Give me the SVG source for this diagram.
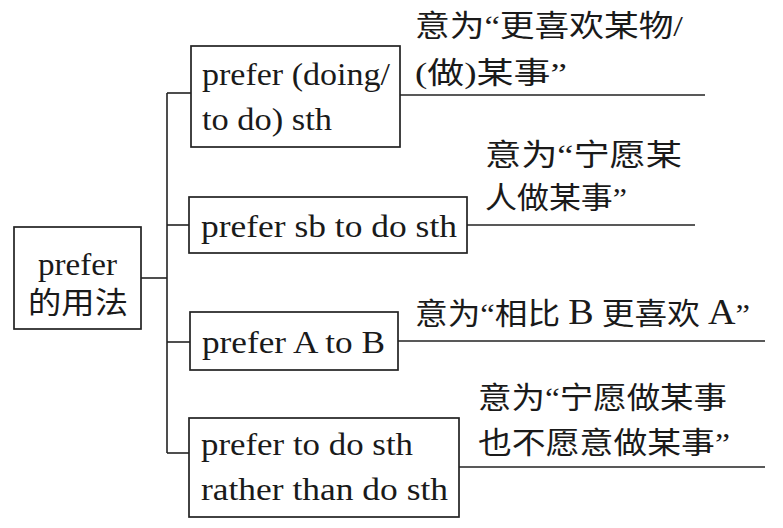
<svg xmlns="http://www.w3.org/2000/svg" width="783" height="528" viewBox="0 0 783 528">
<style>
.box{fill:#fff;stroke:#222;stroke-width:1.7}
.ln{fill:none;stroke:#222;stroke-width:1.6}
.en{font-family:"Liberation Serif","Noto Sans CJK SC",serif;font-size:31px;fill:#1a1a1a}
.cn{font-family:"Liberation Serif","Noto Sans CJK SC",serif;font-size:30px;fill:#1a1a1a}
.big{font-size:35px}
</style>
<rect width="783" height="528" fill="#fff"/>
<g id="connectors">
<path class="ln" d="M167,93 V453"/>
<path class="ln" d="M141,278 H167"/>
<path class="ln" d="M167,93 H191"/>
<path class="ln" d="M167,225 H189"/>
<path class="ln" d="M167,342 H190"/>
<path class="ln" d="M167,453 H189"/>
<path class="ln" d="M400,95 H705"/>
<path class="ln" d="M467,225 H695"/>
<path class="ln" d="M398,341 H765"/>
<path class="ln" d="M459,467 H765"/>
</g>
<g id="root">
<rect class="box" x="14" y="227" width="127" height="102"/>
<text class="en" x="38" y="275" textLength="79" lengthAdjust="spacingAndGlyphs">prefer</text>
<text class="cn" x="28" y="313" font-size="32" textLength="100" lengthAdjust="spacingAndGlyphs">的用法</text>
</g>
<g id="node1">
<rect class="box" x="191" y="46" width="209" height="101"/>
<text class="en" x="202" y="85" textLength="188" lengthAdjust="spacingAndGlyphs">prefer (doing/</text>
<text class="en" x="202" y="130" textLength="130" lengthAdjust="spacingAndGlyphs">to do) sth</text>
</g>
<g id="note1">
<text class="cn" x="415" y="36" textLength="268" lengthAdjust="spacingAndGlyphs">意为“更喜欢某物/</text>
<text class="cn" x="415" y="83" textLength="152" lengthAdjust="spacingAndGlyphs">(做)某事”</text>
</g>
<g id="node2">
<rect class="box" x="189" y="197" width="278" height="56"/>
<text class="en" x="201" y="237" textLength="256" lengthAdjust="spacingAndGlyphs">prefer sb to do sth</text>
</g>
<g id="note2">
<text class="cn" x="485" y="165" textLength="197" lengthAdjust="spacingAndGlyphs">意为“宁愿某</text>
<text class="cn" x="485" y="208" textLength="142" lengthAdjust="spacingAndGlyphs">人做某事”</text>
</g>
<g id="node3">
<rect class="box" x="190" y="312" width="208" height="58"/>
<text class="en" x="202" y="353" textLength="183" lengthAdjust="spacingAndGlyphs">prefer A to B</text>
</g>
<g id="note3">
<text class="cn" x="415" y="324" textLength="335" lengthAdjust="spacingAndGlyphs">意为“相比 <tspan class="big">B</tspan> 更喜欢 <tspan class="big">A</tspan>”</text>
</g>
<g id="node4">
<rect class="box" x="189" y="418" width="270" height="99"/>
<text class="en" x="201" y="455" textLength="212" lengthAdjust="spacingAndGlyphs">prefer to do sth</text>
<text class="en" x="201" y="500" textLength="247" lengthAdjust="spacingAndGlyphs">rather than do sth</text>
</g>
<g id="note4">
<text class="cn" x="478" y="408" textLength="249" lengthAdjust="spacingAndGlyphs">意为“宁愿做某事</text>
<text class="cn" x="478" y="453" textLength="252" lengthAdjust="spacingAndGlyphs">也不愿意做某事”</text>
</g>
</svg>
